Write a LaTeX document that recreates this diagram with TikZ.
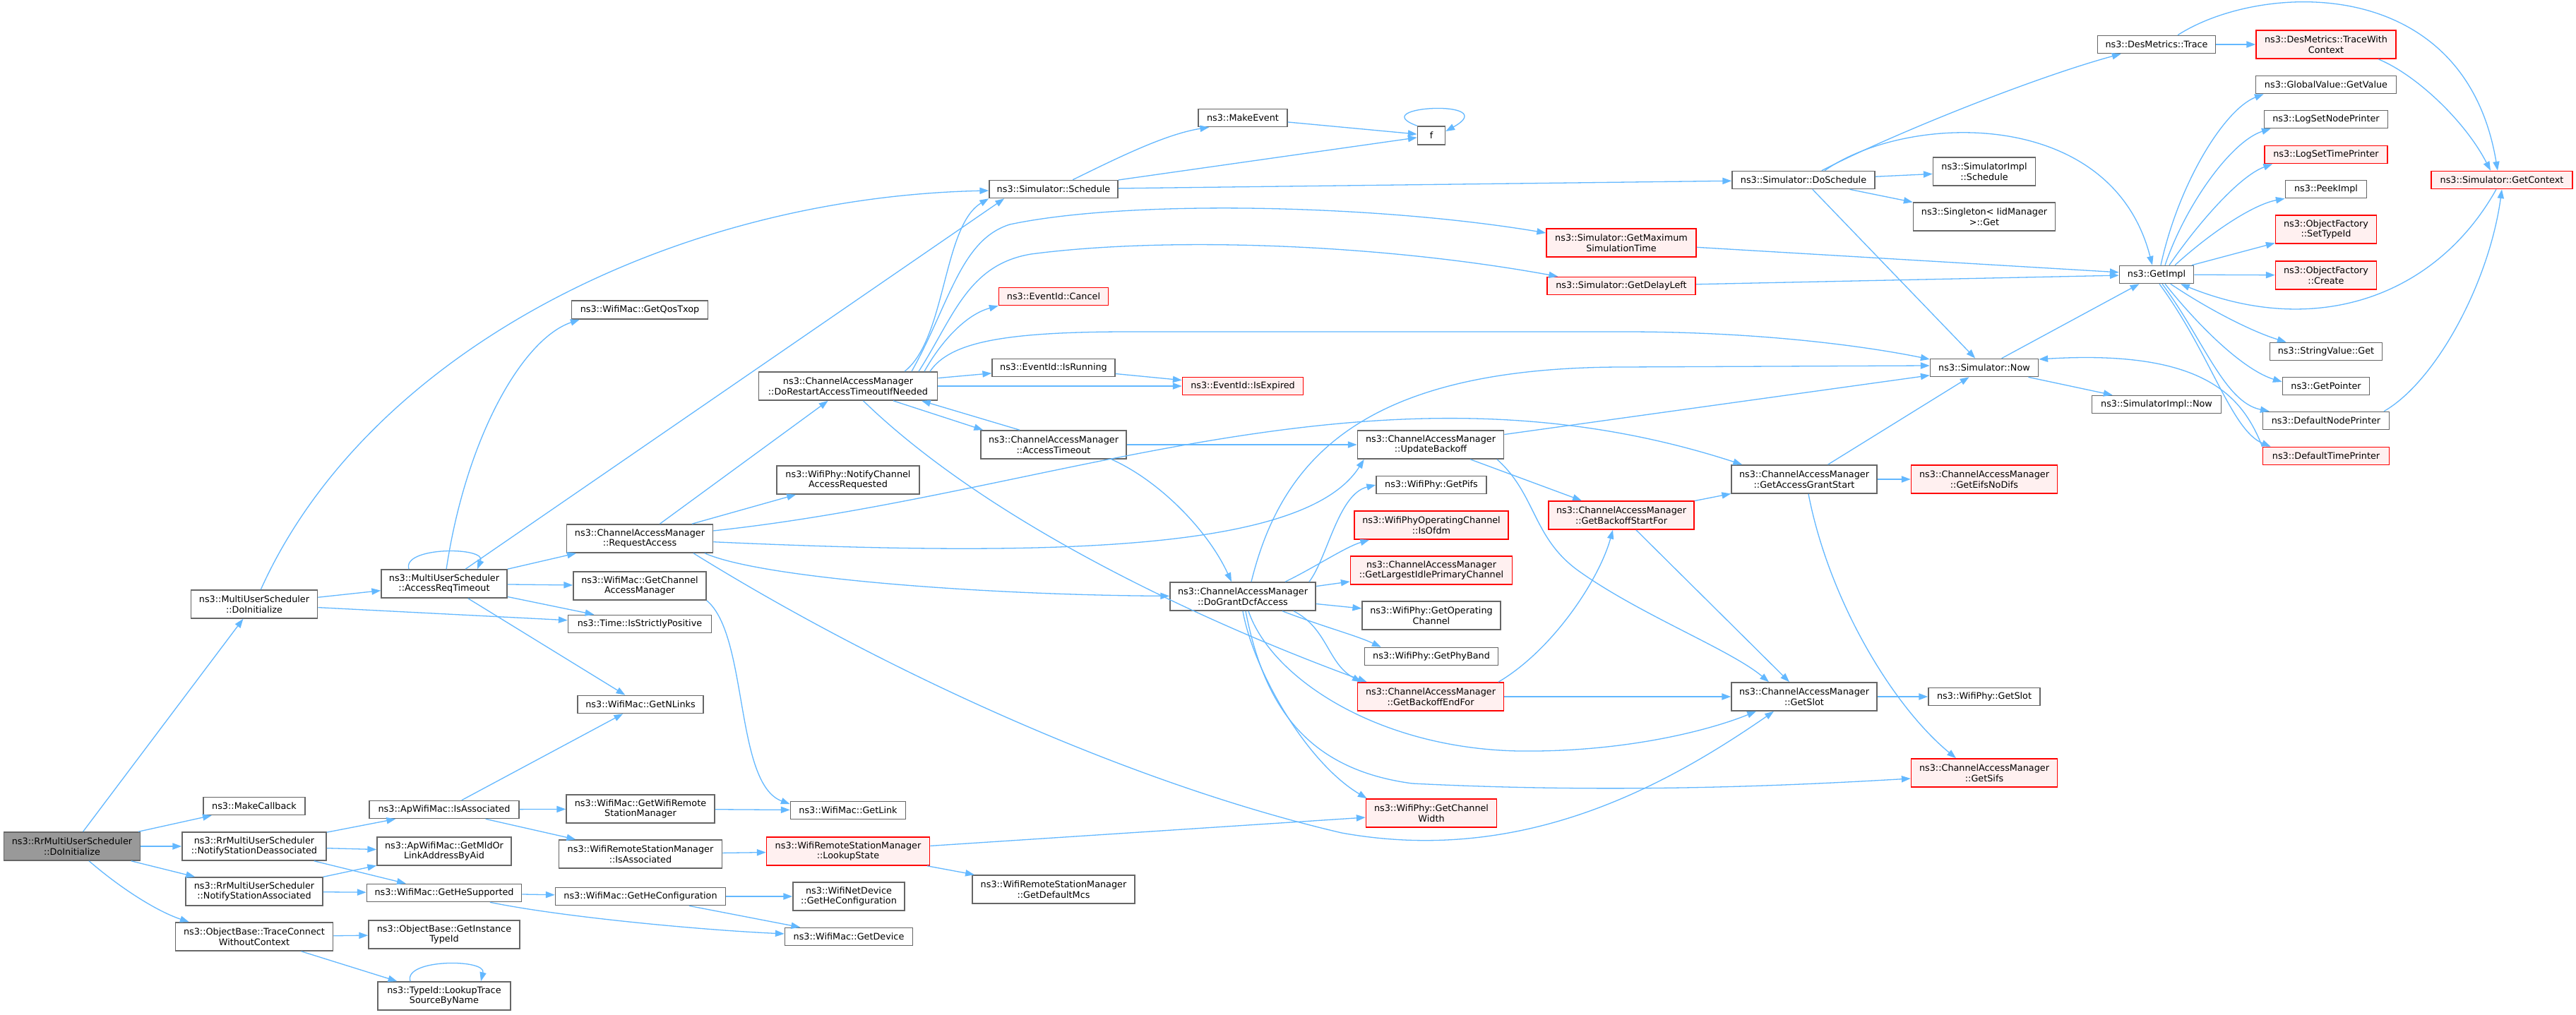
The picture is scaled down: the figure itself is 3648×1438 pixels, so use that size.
\documentclass[tikz,border=0pt]{standalone}
\usepackage{fontspec}
\setmainfont{DejaVu Sans}
\usetikzlibrary{arrows.meta}
\definecolor{edgec}{HTML}{63B8FF}
\definecolor{ndline}{HTML}{666666}
\definecolor{rdfill}{HTML}{FFF0F0}
\definecolor{rootfill}{HTML}{999999}
\newcommand{\dxfont}{\fontsize{6.4pt}{7.25pt}\selectfont}
\tikzset{
  nbox/.style={rectangle, draw=ndline, fill=white, line width=0.8pt, inner sep=0pt, align=center, font=\dxfont},
  rbox/.style={nbox, draw=red, fill=rdfill},
  gbox/.style={nbox, fill=rootfill},
  sz/.style 2 args={minimum width=#1*0.5pt, minimum height=#2*0.5pt},
  arr/.style={draw=edgec, line width=0.65pt, -{Triangle[length=6.4pt,width=4.6pt]}},
}
\begin{document}
\begin{tikzpicture}[x=0.5pt,y=-0.5pt]
\fill[white] (0,0) rectangle (3648,1438);
\useasboundingbox (0,0) rectangle (3648,1438);
% ---------------- nodes
\node[gbox, sz={193}{40}] (root) at (102,1199) {ns3::RrMultiUserScheduler\\::DoInitialize};
\node[nbox, sz={179}{40}] (mudo) at (360,856) {ns3::MultiUserScheduler\\::DoInitialize};
\node[nbox, sz={144}{25}] (mkcb) at (360,1142) {ns3::MakeCallback};
\node[nbox, sz={204}{40}] (nsd) at (360,1199) {ns3::RrMultiUserScheduler\\::NotifyStationDeassociated};
\node[nbox, sz={194}{40}] (nsa) at (360,1263) {ns3::RrMultiUserScheduler\\::NotifyStationAssociated};
\node[nbox, sz={223}{40}] (tcw) at (360,1327) {ns3::ObjectBase::TraceConnect\\WithoutContext};
\node[nbox, sz={178}{40}] (art) at (629,827) {ns3::MultiUserScheduler\\::AccessReqTimeout};
\node[nbox, sz={212}{25}] (apia) at (629,1147) {ns3::ApWifiMac::IsAssociated};
\node[nbox, sz={190}{40}] (mld) at (629,1206) {ns3::ApWifiMac::GetMldOr\\LinkAddressByAid};
\node[nbox, sz={219}{25}] (hes) at (629,1265) {ns3::WifiMac::GetHeSupported};
\node[nbox, sz={214}{40}] (git) at (629,1324) {ns3::ObjectBase::GetInstance\\TypeId};
\node[nbox, sz={188}{40}] (ltsn) at (629,1411) {ns3::TypeId::LookupTrace\\SourceByName};
\node[nbox, sz={193}{26}] (gqt) at (906,439) {ns3::WifiMac::GetQosTxop};
\node[nbox, sz={207}{40}] (ra) at (906,763) {ns3::ChannelAccessManager\\::RequestAccess};
\node[nbox, sz={188}{40}] (gcam) at (906,830) {ns3::WifiMac::GetChannel\\AccessManager};
\node[nbox, sz={203}{25}] (isp) at (906,884) {ns3::Time::IsStrictlyPositive};
\node[nbox, sz={178}{25}] (gnl) at (907,998) {ns3::WifiMac::GetNLinks};
\node[nbox, sz={210}{40}] (gwrsm) at (907,1146) {ns3::WifiMac::GetWifiRemote\\StationManager};
\node[nbox, sz={231}{40}] (rsmia) at (907,1210) {ns3::WifiRemoteStationManager\\::IsAssociated};
\node[nbox, sz={241}{25}] (ghec) at (907,1270) {ns3::WifiMac::GetHeConfiguration};
\node[nbox, sz={253}{40}] (drst) at (1201,547) {ns3::ChannelAccessManager\\::DoRestartAccessTimeoutIfNeeded};
\node[nbox, sz={202}{40}] (ncar) at (1201,680) {ns3::WifiPhy::NotifyChannel\\AccessRequested};
\node[nbox, sz={163}{25}] (glink) at (1201,1148) {ns3::WifiMac::GetLink};
\node[rbox, sz={231}{40}] (lks) at (1201,1206) {ns3::WifiRemoteStationManager\\::LookupState};
\node[nbox, sz={158}{40}] (wndhc) at (1202,1270) {ns3::WifiNetDevice\\::GetHeConfiguration};
\node[nbox, sz={181}{25}] (gdev) at (1202,1327) {ns3::WifiMac::GetDevice};
\node[nbox, sz={182}{25}] (sched) at (1492,268) {ns3::Simulator::Schedule};
\node[rbox, sz={155}{25}] (cancel) at (1492,420) {ns3::EventId::Cancel};
\node[nbox, sz={174}{25}] (isrun) at (1492,521) {ns3::EventId::IsRunning};
\node[nbox, sz={206}{40}] (acto) at (1492,630) {ns3::ChannelAccessManager\\::AccessTimeout};
\node[nbox, sz={230}{40}] (gdmcs) at (1492,1260) {ns3::WifiRemoteStationManager\\::GetDefaultMcs};
\node[nbox, sz={126}{25}] (mkev) at (1760,167) {ns3::MakeEvent};
\node[rbox, sz={171}{25}] (isexp) at (1760,547) {ns3::EventId::IsExpired};
\node[nbox, sz={206}{40}] (dgdcf) at (1760,845) {ns3::ChannelAccessManager\\::DoGrantDcfAccess};
\node[nbox, sz={39}{26}] (f) at (2027,192) {f};
\node[nbox, sz={207}{40}] (ub) at (2026,630) {ns3::ChannelAccessManager\\::UpdateBackoff};
\node[nbox, sz={156}{25}] (pifs) at (2027,687) {ns3::WifiPhy::GetPifs};
\node[rbox, sz={218}{40}] (ofdm) at (2027,744) {ns3::WifiPhyOperatingChannel\\::IsOfdm};
\node[rbox, sz={229}{40}] (glipc) at (2027,808) {ns3::ChannelAccessManager\\::GetLargestIdlePrimaryChannel};
\node[nbox, sz={196}{40}] (goc) at (2027,872) {ns3::WifiPhy::GetOperating\\Channel};
\node[nbox, sz={189}{25}] (gpb) at (2027,930) {ns3::WifiPhy::GetPhyBand};
\node[rbox, sz={207}{40}] (gbef) at (2026,987) {ns3::ChannelAccessManager\\::GetBackoffEndFor};
\node[rbox, sz={185}{40}] (gcw) at (2027,1152) {ns3::WifiPhy::GetChannel\\Width};
\node[rbox, sz={212}{40}] (gmst) at (2296,344) {ns3::Simulator::GetMaximum\\SimulationTime};
\node[rbox, sz={210}{25}] (gdl) at (2296,405) {ns3::Simulator::GetDelayLeft};
\node[rbox, sz={206}{40}] (gbsf) at (2296,730) {ns3::ChannelAccessManager\\::GetBackoffStartFor};
\node[nbox, sz={202}{25}] (dosch) at (2554,255) {ns3::Simulator::DoSchedule};
\node[nbox, sz={206}{40}] (gags) at (2555,679) {ns3::ChannelAccessManager\\::GetAccessGrantStart};
\node[nbox, sz={206}{40}] (cgslot) at (2555,987) {ns3::ChannelAccessManager\\::GetSlot};
\node[nbox, sz={145}{40}] (simpsch) at (2810,243) {ns3::SimulatorImpl\\::Schedule};
\node[nbox, sz={201}{40}] (sgl) at (2810,307) {ns3::Singleton< IidManager\\ >::Get};
\node[nbox, sz={153}{25}] (snow) at (2810,521) {ns3::Simulator::Now};
\node[rbox, sz={207}{40}] (eifs) at (2810,679) {ns3::ChannelAccessManager\\::GetEifsNoDifs};
\node[nbox, sz={158}{25}] (wpslot) at (2810,987) {ns3::WifiPhy::GetSlot};
\node[rbox, sz={207}{40}] (sifs) at (2810,1095) {ns3::ChannelAccessManager\\::GetSifs};
\node[nbox, sz={167}{25}] (dmt) at (3054,63) {ns3::DesMetrics::Trace};
\node[nbox, sz={105}{25}] (gimpl) at (3054,389) {ns3::GetImpl};
\node[nbox, sz={183}{25}] (sinow) at (3054,573) {ns3::SimulatorImpl::Now};
\node[rbox, sz={198}{40}] (dmtwc) at (3294,63) {ns3::DesMetrics::TraceWith\\Context};
\node[nbox, sz={199}{25}] (gvgv) at (3294,120) {ns3::GlobalValue::GetValue};
\node[nbox, sz={175}{25}] (lsnp) at (3294,169) {ns3::LogSetNodePrinter};
\node[rbox, sz={174}{25}] (lstp) at (3294,219) {ns3::LogSetTimePrinter};
\node[nbox, sz={115}{25}] (peek) at (3294,268) {ns3::PeekImpl};
\node[rbox, sz={143}{40}] (sti) at (3294,325) {ns3::ObjectFactory\\::SetTypeId};
\node[rbox, sz={143}{40}] (create) at (3294,390) {ns3::ObjectFactory\\::Create};
\node[nbox, sz={159}{25}] (svg) at (3294,498) {ns3::StringValue::Get};
\node[nbox, sz={123}{25}] (gptr) at (3294,547) {ns3::GetPointer};
\node[nbox, sz={179}{25}] (dnp) at (3294,596) {ns3::DefaultNodePrinter};
\node[rbox, sz={179}{25}] (dtp) at (3294,646) {ns3::DefaultTimePrinter};
\node[rbox, sz={200}{25}] (gctx) at (3543,255) {ns3::Simulator::GetContext};
% ---------------- edges
% root
\draw[arr] (root) -- (mudo);
\draw[arr] (root) -- (mkcb);
\draw[arr] (root) -- (nsd);
\draw[arr] (root) -- (nsa);
\draw[arr] (root) .. controls (175,1262) and (225,1292) .. ([xshift=10pt]tcw.north west);
% MultiUserScheduler::DoInitialize
\draw[arr] (mudo) .. controls (520,500) and (950,280) .. (sched);
\draw[arr] (mudo) -- (art);
\draw[arr] (mudo) -- (isp);
% AccessReqTimeout
\draw[arr] ([xshift=-25pt]art.north) .. controls ([xshift=-30pt,yshift=16pt]art.north) and ([xshift=30pt,yshift=16pt]art.north) .. ([xshift=23.5pt]art.north);
\draw[arr] (art) .. controls (660,620) and (740,480) .. ([xshift=6pt]gqt.south west);
\draw[arr] (art) -- ([xshift=11pt]sched.south west);
\draw[arr] (art) -- (ra);
\draw[arr] (art) -- (gcam);
\draw[arr] (art) -- (isp);
\draw[arr] (art) -- (gnl);
\draw[arr] (gcam.south east) .. controls (1060,900) and (1040,1110) .. ([yshift=-2.25pt]glink.north west);
% notify / trace connect
\draw[arr] (nsd) -- (apia);
\draw[arr] (nsd) -- (mld);
\draw[arr] (nsd) -- (hes);
\draw[arr] (nsa) -- (mld);
\draw[arr] (nsa) -- (hes);
\draw[arr] (tcw) -- (git);
\draw[arr] (tcw) -- (ltsn);
\draw[arr] ([xshift=-24pt]ltsn.north) .. controls ([xshift=-29pt,yshift=16pt]ltsn.north) and ([xshift=30pt,yshift=16pt]ltsn.north) .. ([xshift=26pt]ltsn.north);
\draw[arr] (apia) -- (gnl);
\draw[arr] (apia) -- (gwrsm);
\draw[arr] (apia) -- (rsmia);
\draw[arr] (hes) -- (ghec);
\draw[arr] (hes) .. controls (800,1300) and (1000,1318) .. (gdev);
\draw[arr] (ghec) -- (wndhc);
\draw[arr] (ghec) -- (gdev);
\draw[arr] (gwrsm) -- (glink);
\draw[arr] (rsmia) -- (lks);
\draw[arr] (lks) -- (gdmcs);
\draw[arr] (lks) -- (gcw);
% RequestAccess
\draw[arr] (ra) -- (drst);
\draw[arr] (ra) -- (ncar);
\draw[arr] (ra) .. controls (1500,700) and (1950,490) .. ([xshift=8pt]gags.north west);
\draw[arr] (ra) .. controls (1500,790) and (1850,780) .. ([xshift=5pt]ub.south west);
\draw[arr] ([xshift=46pt]ra.south) .. controls (1080,820) and (1400,843) .. (dgdcf);
\draw[arr] ([xshift=38pt]ra.south) .. controls (1250,950) and (1600,1110) .. (1900,1180) .. controls (2150,1225) and (2350,1120) .. ([xshift=-21.5pt]cgslot.south);
% DoRestartAccessTimeoutIfNeeded
\draw[arr] ([xshift=40pt]drst.north) .. controls (1340,480) and (1335,320) .. (sched.south west);
\draw[arr] ([xshift=45pt]drst.north) .. controls (1345,430) and (1360,340) .. (1430,318) .. controls (1600,282) and (1950,290) .. ([yshift=7pt]gmst.west);
\draw[arr] ([xshift=50pt]drst.north) .. controls (1350,450) and (1370,375) .. (1460,360) .. controls (1650,335) and (1950,345) .. ([xshift=8pt]gdl.north west);
\draw[arr] ([xshift=54pt]drst.north) .. controls (1335,480) and (1370,445) .. (cancel.south west);
\draw[arr] ([xshift=58pt]drst.north) .. controls (1345,485) and (1420,470) .. (1600,470) -- (2300,470) .. controls (2500,470) and (2650,492) .. ([yshift=6pt]snow.west);
\draw[arr] (drst) -- (isrun);
\draw[arr] (drst) -- (isexp);
\draw[arr] (drst) -- ([xshift=2pt]acto.north west);
\draw[arr] (drst) .. controls (1400,740) and (1700,880) .. ([xshift=7pt]gbef.north west);
\draw[arr] (isrun) -- (isexp);
% AccessTimeout
\draw[arr] ([xshift=-24pt]acto.north) -- ([xshift=52pt]drst.south);
\draw[arr] (acto) -- (ub);
\draw[arr] ([xshift=41pt]acto.south) .. controls (1640,680) and (1710,750) .. ([xshift=-8pt]dgdcf.north);
% DoGrantDcfAccess
\draw[arr] ([xshift=6pt]dgdcf.north) .. controls (1815,650) and (1930,520) .. (2300,520) -- ([yshift=1.5pt]snow.west);
\draw[arr] ([xshift=47pt]dgdcf.north) .. controls (1880,790) and (1895,700) .. (pifs.west);
\draw[arr] ([xshift=30pt]dgdcf.north) .. controls (1860,805) and (1905,775) .. ([xshift=11pt]ofdm.south west);
\draw[arr] (dgdcf) -- (glipc);
\draw[arr] (dgdcf) -- (goc);
\draw[arr] ([xshift=28pt]dgdcf.south) .. controls (1880,890) and (1920,900) .. ([xshift=12pt]gpb.north west);
\draw[arr] ([xshift=36pt]dgdcf.south) .. controls (1880,890) and (1880,940) .. ([xshift=3pt]gbef.north west);
\draw[arr] ([xshift=4pt]dgdcf.south) .. controls (1800,960) and (1950,1060) .. (2150,1064) .. controls (2300,1066) and (2420,1035) .. ([xshift=-34pt]cgslot.south);
\draw[arr] ([xshift=2pt]dgdcf.south) .. controls (1790,1000) and (1850,1090) .. (2000,1110) .. controls (2300,1125) and (2550,1112) .. ([yshift=-4pt]sifs.west);
\draw[arr] (dgdcf.south) .. controls (1775,950) and (1850,1080) .. ([xshift=1pt]gcw.north west);
% UpdateBackoff
\draw[arr] (ub) -- (snow);
\draw[arr] (ub) -- (gbsf);
\draw[arr] ([xshift=47pt]ub.south) .. controls (2175,700) and (2170,760) .. (2233,807) .. controls (2320,870) and (2450,920) .. ([xshift=-25pt]cgslot.north);
% GetBackoffEndFor / StartFor
\draw[arr] ([xshift=48pt]gbef.north) .. controls (2200,920) and (2265,820) .. ([xshift=-6pt]gbsf.south);
\draw[arr] (gbef) -- (cgslot);
\draw[arr] (gbsf) -- (gags);
\draw[arr] (gbsf) -- (cgslot);
% GetAccessGrantStart / GetSlot
\draw[arr] (gags) -- (eifs);
\draw[arr] ([xshift=3pt]gags.south) .. controls (2590,850) and (2680,1000) .. ([xshift=-20pt]sifs.north);
\draw[arr] (gags) -- (snow);
\draw[arr] (cgslot) -- (wpslot);
% Schedule
\draw[arr] (sched) .. controls (1580,225) and (1650,190) .. ([xshift=8pt]mkev.south west);
\draw[arr] (sched) -- (f);
\draw[arr] (mkev) -- (f);
\draw[arr] (f.north west) .. controls (1930,150) and (2130,140) .. ([yshift=3pt]f.east);
\draw[arr] (sched) -- (dosch);
% DoSchedule
\draw[arr] (dosch) .. controls (2680,190) and (2880,110) .. ([xshift=17pt]dmt.south west);
\draw[arr] ([xshift=15pt]dosch.north) .. controls (2700,160) and (2990,150) .. ([xshift=-3pt]gimpl.north);
\draw[arr] (dosch) -- (simpsch);
\draw[arr] (dosch) -- (sgl);
\draw[arr] (dosch) -- (snow);
% into GetImpl / Now
\draw[arr] (gmst) -- (gimpl);
\draw[arr] (gdl) -- (gimpl);
\draw[arr] (snow) -- (gimpl);
\draw[arr] (snow) -- (sinow);
\draw[arr] (dtp.north west) .. controls (3175,560) and (3120,495) .. ([yshift=6pt]snow.east);
% GetImpl
\draw[arr] ([xshift=3pt]gimpl.north) .. controls (3085,260) and (3150,155) .. ([xshift=6pt]gvgv.south west);
\draw[arr] ([xshift=6pt]gimpl.north) .. controls (3095,290) and (3160,200) .. ([xshift=5pt]lsnp.south west);
\draw[arr] ([xshift=9pt]gimpl.north) .. controls (3110,320) and (3170,250) .. ([xshift=6pt]lstp.south west);
\draw[arr] ([xshift=13pt]gimpl.north) .. controls (3130,330) and (3190,290) .. (peek.south west);
\draw[arr] (gimpl) -- (sti);
\draw[arr] (gimpl) -- (create);
\draw[arr] (gimpl) .. controls (3130,440) and (3190,470) .. ([xshift=12pt]svg.north west);
\draw[arr] ([xshift=6pt]gimpl.south) .. controls (3120,470) and (3180,525) .. ([yshift=3pt]gptr.west);
\draw[arr] ([xshift=4pt]gimpl.south) .. controls (3120,480) and (3150,570) .. ([xshift=5pt]dnp.north west);
\draw[arr] ([xshift=2pt]gimpl.south) .. controls (3130,500) and (3160,610) .. ([xshift=6pt]dtp.north west);
% DesMetrics / GetContext
\draw[arr] (dmt) -- (dmtwc);
\draw[arr] ([xshift=15pt]dmt.north) .. controls (3200,-25) and (3490,-40) .. ([xshift=-3pt]gctx.north);
\draw[arr] ([xshift=37pt]dmtwc.south) .. controls (3420,105) and (3490,170) .. ([xshift=-8pt]gctx.north);
\draw[arr] ([xshift=-4pt]gctx.south) .. controls (3450,420) and (3280,480) .. ([xshift=17pt]gimpl.south);
\draw[arr] ([xshift=41pt]dnp.north) .. controls (3450,540) and (3525,400) .. (gctx.south);
\end{tikzpicture}
\end{document}
